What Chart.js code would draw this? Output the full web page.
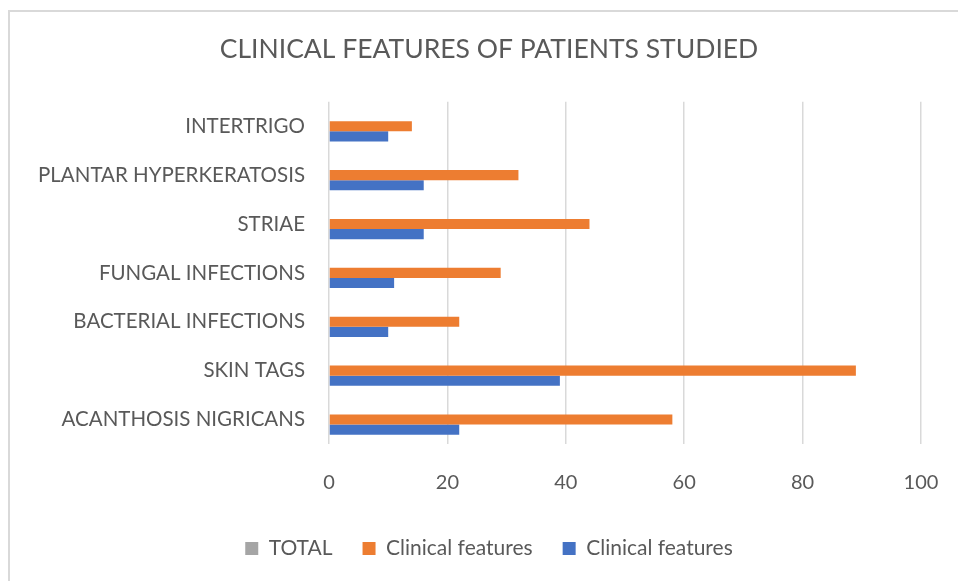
<!DOCTYPE html>
<html>
<head>
<meta charset="utf-8">
<script src="https://cdn.jsdelivr.net/npm/chart.js@4"></script>
<style>
  body { margin: 0; background: #fff; }
  #wrap { position: relative; width: 958px; height: 581px; overflow: hidden; }
  #frame {
    position: absolute; left: 8px; top: 10px; width: 1000px; height: 700px;
    border-left: 2px solid #d9d9d9; border-top: 2px solid #d9d9d9;
  }
  #chartCanvas { position: absolute; left: 0; top: 0; }
</style>
</head>
<body>
<div id="wrap">
  <div id="frame"></div>
  <canvas id="chartCanvas" width="958" height="581"></canvas>
</div>
<script>
// Categories, top to bottom
const categories = [
    'INTERTRIGO', 'PLANTAR HYPERKERATOSIS', 'STRIAE', 'FUNGAL INFECTIONS',
    'BACTERIAL INFECTIONS', 'SKIN TAGS', 'ACANTHOSIS NIGRICANS'
];
const totalValues = [null, null, null, null, null, null, null];   // shown only in legend
const orangeValues = [14, 32, 44, 29, 22, 89, 58];
const blueValues = [10, 16, 16, 11, 10, 39, 22];
const xTicks = [0, 20, 40, 60, 80, 100];

const textColor = '#595959';
const gridColor = '#d9d9d9';

function initializeFeaturesChart() {
    const ctx = document.getElementById('chartCanvas');
    if (!ctx) return;

    new Chart(ctx, {
        type: 'bar',
        data: {
            labels: categories,
            datasets: [
                { label: 'TOTAL', data: totalValues, backgroundColor: '#a5a5a5' },
                { label: 'Clinical features', data: orangeValues, backgroundColor: '#ed7d31' },
                { label: 'Clinical features', data: blueValues, backgroundColor: '#4472c4' }
            ]
        },
        options: {
            indexAxis: 'y',
            responsive: false,
            animation: false,
            datasets: {
                bar: { categoryPercentage: 0.62, barPercentage: 1.0 }
            },
            layout: {
                // negative right padding widens title/legend box so they centre like the original
                padding: { top: 0, bottom: 12, left: 0, right: -20 }
            },
            plugins: {
                title: {
                    display: true,
                    text: 'CLINICAL FEATURES OF PATIENTS STUDIED',
                    color: textColor,
                    font: { family: 'Lato', size: 26.5, weight: 'normal' },
                    padding: { top: 34, bottom: 36 }
                },
                legend: {
                    position: 'bottom',
                    labels: {
                        color: textColor,
                        font: { family: 'Lato', size: 21 },
                        boxWidth: 13,
                        boxHeight: 13,
                        padding: 30
                    }
                },
                tooltip: { enabled: false }
            },
            scales: {
                x: {
                    min: 0,
                    max: 100,
                    afterBuildTicks: (axis) => {
                        axis.ticks = xTicks.map(v => ({ value: v }));
                    },
                    afterFit: (axis) => {
                        axis.height = axis.height - 14;
                        axis.paddingLeft = 0;
                        axis.paddingRight = 37;
                    },
                    grid: { color: gridColor, lineWidth: 1.5, drawTicks: false },
                    border: { display: false },
                    ticks: {
                        color: textColor,
                        font: { family: 'Lato', size: 20 },
                        padding: 27
                    }
                },
                y: {
                    afterFit: (axis) => { axis.width = 329; },
                    grid: { display: false, drawTicks: false },
                    border: { display: false },
                    ticks: {
                        color: textColor,
                        font: { family: 'Lato', size: 20.5 },
                        padding: 24
                    }
                }
            }
        }
    });
}

document.addEventListener('DOMContentLoaded', function () {
    initializeFeaturesChart();
});
</script>
</body>
</html>
